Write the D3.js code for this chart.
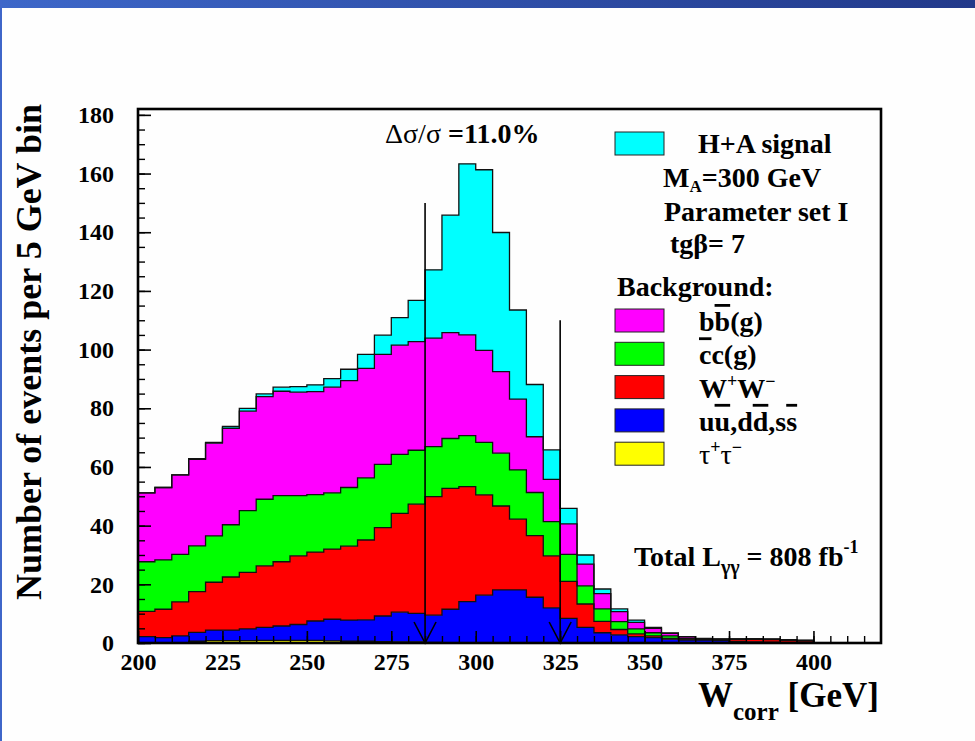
<!DOCTYPE html>
<html>
<head>
<meta charset="utf-8">
<script src="https://cdn.jsdelivr.net/npm/d3@7"></script>
<style>
  body { margin: 0; background: #fefefe; }
  svg { display: block; }
  text { font-family: "Liberation Serif", "Times New Roman", serif; font-weight: bold; fill: #000; }
</style>
</head>
<body>
<svg id="chart"></svg>
<script>
// Chart dimensions
const width = 975;
const height = 741;

// Lower edges of the 5 GeV bins
const binEdges = [200, 205, 210, 215, 220, 225, 230, 235, 240, 245,
                  250, 255, 260, 265, 270, 275, 280, 285, 290, 295,
                  300, 305, 310, 315, 320, 325, 330, 335, 340, 345,
                  350, 355, 360, 365, 370, 375, 380, 385, 390, 395];
const binWidth = 5;

// Events per bin for each process
const tautau = [0, 0, 0.1, 0.6, 0.8, 0.8, 0.8, 0.9, 0.9, 0.9,
                0.9, 0.7, 0.6, 0.6, 0.5, 0.4, 0.4, 0.2, 0, 0,
                0, 0, 0, 0, 0, 0, 0, 0, 0, 0,
                0, 0, 0, 0, 0, 0, 0, 0, 0, 0];
const uds = [2.2, 1.8, 2.3, 3.0, 3.6, 3.6, 4.0, 4.4, 4.9, 5.4,
             6.6, 7.4, 7.2, 7.3, 8.7, 10.1, 9.7, 9.3, 11.5, 14.1,
             16.3, 18.1, 18.1, 15.6, 12.0, 8.4, 5.3, 3.5, 2.8, 2.2,
             1.8, 1.3, 1.0, 1.0, 0.8, 0.5, 0.4, 0.3, 0.2, 0.1];
const wwPairs = [8.6, 9.7, 11.6, 13.9, 16.3, 18.1, 19.3, 21.0, 21.9, 23.4,
                 23.5, 23.9, 25.2, 27.2, 30.1, 33.7, 37.2, 40.4, 41.2, 39.2,
                 34.2, 28.6, 24.1, 21.0, 17.7, 12.6, 8.0, 3.9, 1.8, 0.9,
                 0.6, 0.3, 0.3, 0.2, 0.3, 0.7, 0.9, 0.9, 0.8, 0.7];
const ccbar = [16.9, 16.8, 16.2, 15.6, 15.8, 17.8, 21.0, 22.7, 22.5, 20.5,
               19.6, 19.2, 20.0, 21.2, 21.6, 20.1, 18.4, 17.0, 17.0, 17.4,
               17.9, 18.0, 16.8, 14.7, 11.7, 9.2, 6.2, 4.2, 2.7, 1.7,
               1.1, 0.8, 0.2, 0.1, 0.1, 0.1, 0.05, 0.05, 0.05, 0.05];
const bbbar = [23.5, 24.7, 27.1, 29.5, 31.6, 32.9, 33.9, 35.0, 35.6, 35.3,
               35.1, 36.0, 36.4, 37.3, 37.5, 37.2, 37.0, 37.0, 36.1, 34.3,
               31.3, 27.8, 24.1, 19.0, 14.4, 10.4, 7.4, 5.2, 3.4, 2.2,
               1.5, 0.9, 0.6, 0.2, 0.1, 0.05, 0.05, 0.05, 0, 0];
const signal = [0, 0, 0, 0.2, 0.3, 0.6, 1.0, 0.9, 1.4, 1.9,
                2.3, 2.9, 3.9, 4.8, 6.5, 9.4, 14.1, 23.3, 40.0, 58.3,
                61.6, 47.4, 30.4, 17.8, 10.0, 5.3, 3.1, 1.6, 0.9, 0.8,
                0.3, 0.1, 0.1, 0.1, 0.1, 0.05, 0, 0, 0, 0];

// Mass window cuts (arrows)
const cutValues = [285, 325];
const cutHeights = [150, 110];

// Axis tick labels
const xTickLabels = [200, 225, 250, 275, 300, 325, 350, 375, 400];
const yTickLabels = [0, 20, 40, 60, 80, 100, 120, 140, 160, 180];

// Stack order, bottom to top
const keys = ["tautau", "uds", "ww", "cc", "bb", "signal"];
const colors = {
  tautau: "#ffff00", uds: "#0000ff", ww: "#ff0000",
  cc: "#00ff00", bb: "#ff00ff", signal: "#00ffff"
};

const rows = binEdges.map((e, i) => ({
  edge: e,
  tautau: tautau[i], uds: uds[i], ww: wwPairs[i],
  cc: ccbar[i], bb: bbbar[i], signal: signal[i]
}));

const svg = d3.select("#chart").attr("width", width).attr("height", height);

// Slide decoration: blue band at top, thin line on the left
const grad = svg.append("defs").append("linearGradient").attr("id", "band");
grad.append("stop").attr("offset", "0%").attr("stop-color", "#3d67c9");
grad.append("stop").attr("offset", "100%").attr("stop-color", "#22398a");
svg.append("rect").attr("x", 0).attr("y", 0).attr("width", width).attr("height", 8).attr("fill", "url(#band)");
svg.append("rect").attr("x", 0).attr("y", 0).attr("width", 2).attr("height", height).attr("fill", "#3f66c9");

// Scales
const x = d3.scaleLinear().domain([200, 420]).range([138, 881]);
const y = d3.scaleLinear().domain([0, 182]).range([643, 109]);

// Stack the histograms
const series = d3.stack().keys(keys)(rows);

const area = d3.area()
  .curve(d3.curveStepAfter)
  .x((d) => x(d.edge))
  .y0((d) => y(d.lo))
  .y1((d) => y(d.hi));

const outline = d3.line()
  .curve(d3.curveStepAfter)
  .x((d) => x(d.edge))
  .y((d) => y(d.hi));

const layerPoints = (s) => {
  const pts = s.map((d) => ({ edge: d.data.edge, lo: d[0], hi: d[1] }));
  const last = pts[pts.length - 1];
  pts.push({ edge: last.edge + binWidth, lo: last.lo, hi: last.hi });
  return pts;
};

const hist = svg.append("g");

hist.selectAll(".band")
  .data(series)
  .enter()
  .append("path")
  .attr("class", "band")
  .attr("fill", (s) => colors[s.key])
  .attr("d", (s) => area(layerPoints(s)));

hist.selectAll(".edge")
  .data(series)
  .enter()
  .append("path")
  .attr("class", "edge")
  .attr("fill", "none")
  .attr("stroke", "#111")
  .attr("stroke-width", 1.3)
  .attr("d", (s) => {
    const pts = layerPoints(s);
    const first = pts[0];
    const last = pts[pts.length - 1];
    return outline([{ edge: first.edge, hi: 0 }].concat(pts, [{ edge: last.edge, hi: 0 }]));
  });

// Axes (ticks inside the frame, drawn over the fills)
const styleAxis = (g, w) => {
  g.select(".domain").remove();
  g.selectAll("line").attr("stroke", "#000").attr("stroke-width", w);
};

svg.append("g")
  .attr("transform", `translate(${x(200)},0)`)
  .call(d3.axisLeft(y).tickValues(d3.range(0, 181, 5)).tickSizeInner(-7).tickSizeOuter(0).tickFormat(""))
  .call((g) => styleAxis(g, 1.4));

svg.append("g")
  .attr("transform", `translate(${x(200)},0)`)
  .call(d3.axisLeft(y).tickValues(yTickLabels).tickSizeInner(-13).tickSizeOuter(0).tickPadding(24))
  .call((g) => styleAxis(g, 1.6))
  .call((g) => g.selectAll("text").style("font-size", "24px"));

svg.append("g")
  .attr("transform", `translate(0,${y(0)})`)
  .call(d3.axisBottom(x).tickValues(d3.range(200, 420, 5)).tickSizeInner(-7).tickSizeOuter(0).tickFormat(""))
  .call((g) => styleAxis(g, 1.4));

svg.append("g")
  .attr("transform", `translate(0,${y(0)})`)
  .call(d3.axisBottom(x).tickValues(xTickLabels).tickSizeInner(-12).tickSizeOuter(0).tickPadding(10))
  .call((g) => styleAxis(g, 1.6))
  .call((g) => g.selectAll("text").style("font-size", "24px"));

// Cut arrows
const arrows = svg.append("g").attr("stroke", "#000").attr("stroke-width", 1.6).attr("fill", "none");
cutValues.forEach((c, i) => {
  arrows.append("line")
    .attr("x1", x(c)).attr("x2", x(c))
    .attr("y1", y(cutHeights[i])).attr("y2", y(0));
  arrows.append("path")
    .attr("d", d3.line()([[x(c) - 11, y(0) - 21], [x(c), y(0)], [x(c) + 11, y(0) - 21]]));
});

// Frame
svg.append("rect")
  .attr("x", x(200)).attr("y", y(182))
  .attr("width", x(420) - x(200)).attr("height", y(0) - y(182))
  .attr("fill", "none").attr("stroke", "#000").attr("stroke-width", 2.6);

// Helper for text with sub/superscripts and overbars
function richText(g, px, py, parts, size) {
  const t = g.append("text").attr("x", px).attr("y", py).style("font-size", size + "px");
  let shift = 0;
  parts.forEach((p) => {
    const target = p.sub ? p.sub : p.sup ? -p.sup : 0;
    const s = t.append("tspan").text(p.t).attr("dy", target - shift);
    shift = target;
    if (p.size) s.style("font-size", p.size + "px");
    if (p.over) s.style("text-decoration", "overline");
    if (p.normal) s.style("font-weight", "normal");
  });
  return t;
}

const labels = svg.append("g");

// Y axis title
labels.append("text")
  .attr("transform", "translate(41,352) rotate(-90)")
  .attr("text-anchor", "middle")
  .style("font-size", "36px")
  .text("Number of events per 5 GeV bin");

// X axis title
richText(labels, 698, 707, [{ t: "W" }, { t: "corr", sub: 13, size: 25 }, { t: " [GeV]" }], 35);

// Resolution text
richText(labels, 385, 143, [{ t: "Δσ/σ", normal: true }, { t: " =11.0%" }], 28);

// Luminosity
richText(labels, 634, 566, [
  { t: "Total L" }, { t: "γγ", sub: 8, size: 20 }, { t: " = 808 fb" }, { t: "-1", sup: 13, size: 18 }
], 28);

// Legend
const legend = svg.append("g");
const boxX = 615, boxW = 49, boxH = 23;

legend.append("rect")
  .attr("x", boxX).attr("y", 132).attr("width", boxW).attr("height", boxH)
  .attr("fill", colors.signal).attr("stroke", "#222").attr("stroke-width", 1);
richText(legend, 698, 153, [{ t: "H+A signal" }], 28);
richText(legend, 663, 187, [{ t: "M" }, { t: "A", sub: 5, size: 17 }, { t: "=300 GeV" }], 28);
richText(legend, 664, 221, [{ t: "Parameter set I" }], 28);
richText(legend, 670, 253, [{ t: "tgβ= 7" }], 28);
richText(legend, 617, 296, [{ t: "Background:" }], 28);

const bkgEntries = [
  { key: "bb", parts: [{ t: "b" }, { t: "b", over: true }, { t: "(g)" }] },
  { key: "cc", parts: [{ t: "c", over: true }, { t: "c(g)" }] },
  { key: "ww", parts: [{ t: "W" }, { t: "+", sup: 11, size: 18 }, { t: "W" }, { t: "−", sup: 11, size: 18 }] },
  { key: "uds", parts: [{ t: "u" }, { t: "u", over: true }, { t: ",d" }, { t: "d", over: true }, { t: ",s" }, { t: "s", over: true }] },
  { key: "tautau", parts: [{ t: "τ", normal: true }, { t: "+", sup: 11, size: 18 }, { t: "τ", normal: true }, { t: "−", sup: 11, size: 18 }] }
];

bkgEntries.forEach((e, i) => {
  const top = 309 + i * 33.3;
  legend.append("rect")
    .attr("x", boxX).attr("y", top).attr("width", boxW).attr("height", boxH)
    .attr("fill", colors[e.key]).attr("stroke", "#222").attr("stroke-width", 1);
  richText(legend, 699, top + 22, e.parts, 28);
});
</script>
</body>
</html>
